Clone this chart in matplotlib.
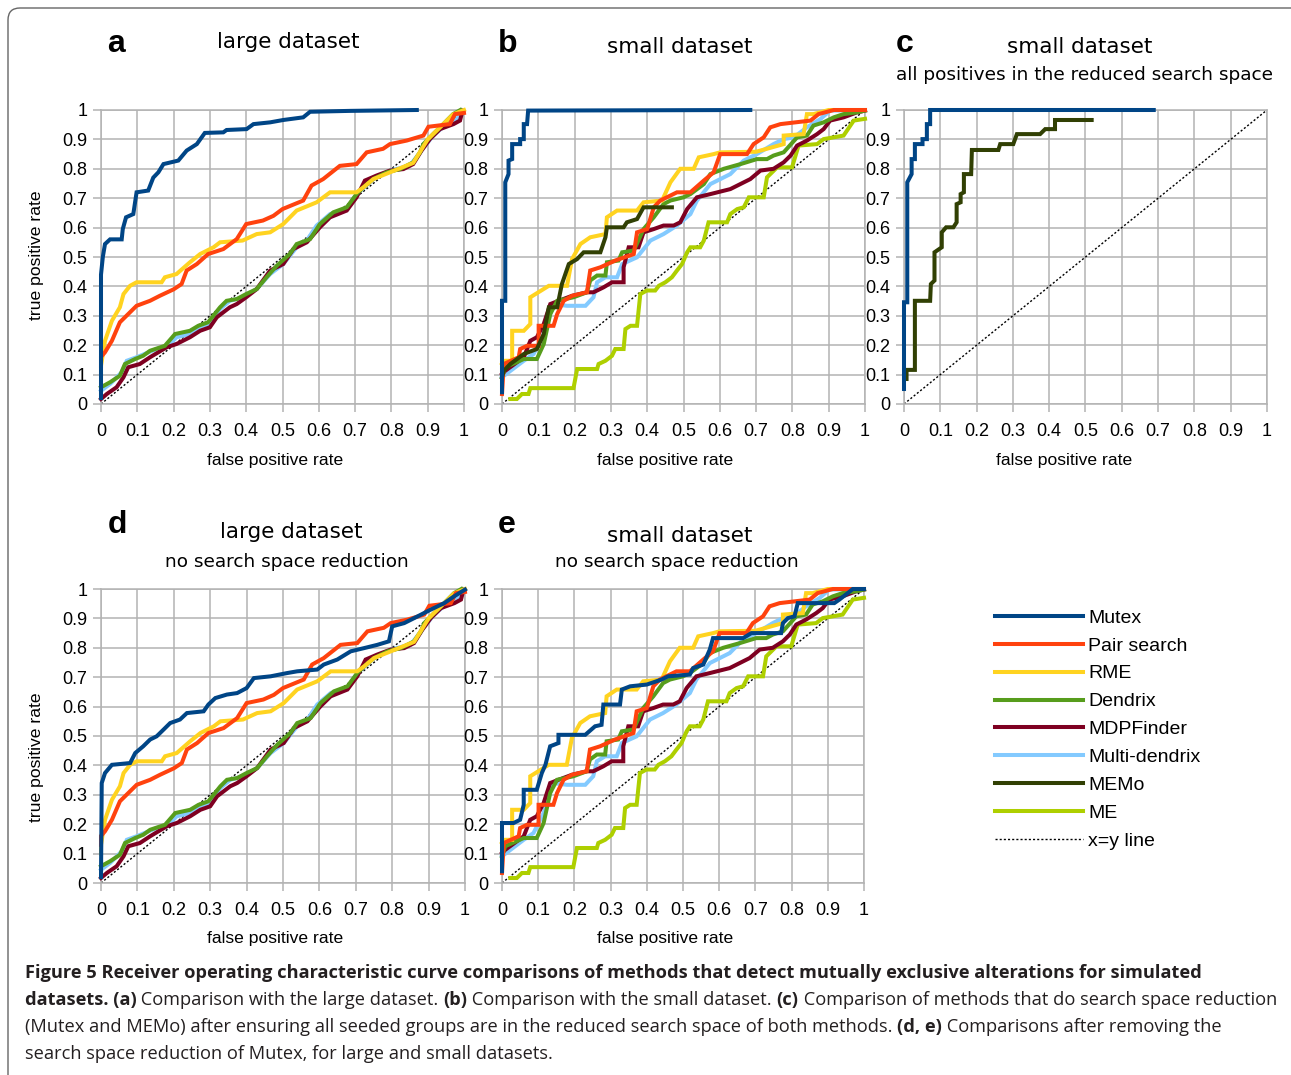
import numpy as np
import matplotlib
matplotlib.use('Agg')
import matplotlib.pyplot as plt
from matplotlib import font_manager
from matplotlib.patches import FancyBboxPatch
from matplotlib.transforms import IdentityTransform

# ---- data: (false positive rate, true positive rate) points ----
# large dataset (panels a and d share everything except Mutex)
mutex_large = [(0, .02), (0, .44), (.005, .5), (.011, .544), (.025, .56), (.057, .56), (.06, .595),
               (.069, .635), (.089, .646), (.098, .72), (.13, .726), (.144, .77), (.158, .788),
               (.172, .816), (.213, .828), (.236, .862), (.264, .884), (.286, .922), (.337, .924),
               (.346, .932), (.401, .935), (.42, .952), (.466, .958), (.502, .966), (.557, .975),
               (.576, .994), (.686, .997), (.87, 1.0)]
mutex_large_noreduction = [(0, .02), (.002, .34), (.011, .374), (.03, .402), (.08, .408), (.094, .442),
                           (.116, .465), (.135, .488), (.153, .499), (.172, .522), (.19, .544),
                           (.217, .556), (.236, .578), (.282, .584), (.295, .607), (.314, .629),
                           (.346, .641), (.374, .646), (.4, .663), (.42, .697), (.466, .703),
                           (.511, .714), (.539, .72), (.594, .726), (.612, .743), (.649, .76),
                           (.686, .788), (.723, .799), (.759, .81), (.791, .822), (.8, .873),
                           (.833, .884), (.87, .907), (.906, .93), (.943, .952), (.97, .975), (1.0, .998)]
pair_large = [(0, .13), (0, .16), (.011, .176), (.03, .215), (.052, .278), (.075, .306), (.098, .334),
              (.135, .351), (.162, .368), (.2, .39), (.222, .408), (.236, .454), (.264, .476),
              (.295, .51), (.337, .527), (.374, .561), (.4, .612), (.446, .624), (.475, .64),
              (.5, .663), (.557, .692), (.58, .743), (.612, .765), (.658, .81), (.704, .816),
              (.732, .856), (.777, .868), (.796, .884), (.842, .896), (.888, .913), (.902, .943),
              (.961, .952), (.975, .986), (1.0, .99)]
rme_large = [(0, .1), (0, .13), (.011, .215), (.03, .283), (.052, .329), (.062, .374), (.08, .402),
             (.098, .414), (.167, .414), (.176, .431), (.208, .442), (.245, .482), (.273, .51),
             (.31, .533), (.328, .55), (.39, .556), (.429, .578), (.466, .584), (.502, .612),
             (.539, .658), (.594, .686), (.631, .72), (.704, .72), (.723, .737), (.75, .765),
             (.8, .79), (.86, .82), (.9, .9), (.97, .985), (1.0, 1.0)]
dendrix_large = [(0, .057), (.025, .074), (.052, .096), (.066, .136), (.094, .153), (.116, .164),
                 (.135, .181), (.176, .198), (.204, .238), (.245, .249), (.268, .266), (.295, .278),
                 (.328, .329), (.346, .351), (.374, .357), (.4, .374), (.429, .391), (.456, .431),
                 (.484, .47), (.52, .51), (.539, .544), (.576, .561), (.603, .612), (.64, .652),
                 (.677, .669), (.704, .714), (.723, .737), (.75, .765), (.787, .788), (.824, .799),
                 (.86, .822), (.879, .856), (.888, .884), (.915, .918), (.943, .952), (.97, .986),
                 (.99, 1.0)]
mdp_large = [(0, .017), (.016, .034), (.043, .057), (.062, .091), (.075, .125), (.107, .136),
             (.135, .159), (.181, .193), (.208, .204), (.245, .227), (.273, .249), (.3, .261),
             (.319, .295), (.355, .329), (.374, .34), (.4, .363), (.429, .391), (.466, .454),
             (.502, .476), (.53, .527), (.567, .55), (.603, .601), (.631, .635), (.677, .658),
             (.704, .703), (.727, .76), (.759, .777), (.796, .794), (.833, .799), (.86, .816),
             (.883, .862), (.906, .901), (.934, .935), (.971, .952), (.989, .964), (.996, .998)]
multi_large = [(0, .045), (.025, .068), (.057, .108), (.071, .147), (.098, .159), (.153, .187),
               (.181, .193), (.208, .227), (.245, .238), (.282, .266), (.3, .272), (.328, .323),
               (.355, .351), (.392, .363), (.429, .391), (.466, .442), (.502, .476), (.539, .533),
               (.567, .556), (.594, .607), (.631, .646), (.677, .663), (.704, .714), (.75, .765),
               (.796, .794), (.851, .811), (.879, .856), (.915, .913), (.952, .952), (.98, .969),
               (.996, .998)]

# small dataset (panels b and e share everything except Mutex; MEMo only in b)
mutex_small = [(0, .04), (0, .351), (.009, .351), (.009, .754), (.018, .782), (.018, .828),
               (.028, .833), (.028, .884), (.05, .884), (.05, .901), (.06, .901), (.06, .952),
               (.069, .952), (.072, .998), (.684, 1.0)]
mutex_small_noreduction = [(0, .04), (0, .204), (.032, .204), (.05, .215), (.06, .266), (.06, .317),
                           (.096, .317), (.11, .374), (.12, .402), (.133, .465), (.156, .476),
                           (.156, .504), (.23, .504), (.257, .533), (.275, .538), (.28, .607),
                           (.326, .607), (.331, .658), (.354, .669), (.4, .675), (.441, .692),
                           (.459, .703), (.519, .709), (.528, .731), (.556, .743), (.574, .794),
                           (.583, .833), (.666, .833), (.689, .85), (.771, .85), (.776, .884),
                           (.79, .901), (.808, .907), (.817, .952), (.918, .952), (.932, .964),
                           (.955, .986), (.969, 1.0), (1.0, 1.0)]
pair_small = [(0, .034), (.005, .136), (.046, .159), (.05, .187), (.069, .198), (.101, .198),
              (.101, .266), (.142, .266), (.152, .306), (.17, .351), (.193, .368), (.234, .38),
              (.243, .454), (.271, .465), (.312, .488), (.363, .51), (.372, .584), (.4, .595),
              (.418, .669), (.436, .692), (.482, .72), (.519, .72), (.556, .76), (.583, .788),
              (.601, .85), (.675, .85), (.693, .884), (.721, .907), (.739, .941), (.767, .952),
              (.85, .964), (.872, .986), (.914, 1.0), (1.0, 1.0)]
rme_small = [(0, .136), (.009, .147), (.028, .147), (.028, .249), (.06, .249), (.078, .272),
             (.078, .363), (.129, .402), (.179, .402), (.193, .493), (.216, .544), (.243, .567),
             (.285, .578), (.289, .635), (.317, .658), (.372, .658), (.39, .686), (.441, .692),
             (.464, .754), (.491, .8), (.528, .8), (.542, .839), (.583, .85), (.601, .856),
             (.7, .858), (.776, .884), (.776, .913), (.831, .918), (.84, .986), (.858, .986),
             (.9, 1.0), (1.0, 1.0)]
dendrix_small = [(0, .091), (.009, .125), (.06, .153), (.096, .153), (.115, .204), (.133, .306),
                 (.152, .351), (.197, .363), (.234, .38), (.243, .42), (.262, .437), (.285, .437),
                 (.289, .482), (.321, .488), (.331, .516), (.363, .522), (.39, .595), (.418, .635),
                 (.445, .68), (.464, .692), (.5, .703), (.519, .714), (.556, .748), (.574, .782),
                 (.611, .8), (.657, .816), (.702, .833), (.73, .833), (.748, .845), (.776, .856),
                 (.813, .907), (.84, .913), (.858, .947), (.886, .958), (.914, .975), (.941, .986),
                 (.978, .992), (1.0, .998)]
mdp_small = [(0, .102), (.009, .113), (.06, .159), (.078, .215), (.096, .227), (.115, .272),
             (.133, .34), (.156, .351), (.193, .368), (.234, .38), (.252, .38), (.28, .397),
             (.303, .414), (.335, .414), (.335, .465), (.349, .533), (.376, .533), (.39, .584),
             (.418, .595), (.445, .607), (.473, .607), (.491, .618), (.51, .663), (.537, .703),
             (.574, .714), (.629, .731), (.684, .765), (.712, .794), (.748, .8), (.776, .822),
             (.795, .845), (.813, .879), (.84, .896), (.868, .918), (.886, .935), (.904, .964),
             (.941, .975), (.978, .992), (1.0, .998)]
multi_small = [(0, .091), (.06, .147), (.087, .17), (.115, .238), (.142, .34), (.179, .334),
               (.23, .334), (.252, .363), (.262, .414), (.285, .431), (.317, .431), (.331, .476),
               (.372, .499), (.409, .556), (.445, .578), (.482, .607), (.519, .646), (.537, .692),
               (.574, .748), (.629, .782), (.666, .828), (.702, .85), (.748, .884), (.776, .901),
               (.804, .907), (.84, .941), (.877, .969), (.904, .998), (1.0, 1.0)]
memo_small = [(0, .091), (.005, .113), (.023, .136), (.06, .17), (.096, .187), (.115, .238),
              (.129, .329), (.152, .329), (.165, .408), (.184, .476), (.207, .493), (.225, .516),
              (.271, .516), (.285, .567), (.289, .601), (.335, .601), (.344, .618), (.372, .629),
              (.39, .669), (.468, .669)]
me_small = [(.023, .017), (.041, .017), (.055, .034), (.073, .034), (.078, .054), (.197, .054),
            (.207, .119), (.262, .119), (.266, .136), (.285, .147), (.303, .164), (.312, .187),
            (.335, .187), (.34, .255), (.354, .266), (.372, .266), (.381, .374), (.399, .386),
            (.422, .386), (.432, .402), (.45, .414), (.468, .431), (.482, .454), (.496, .476),
            (.51, .516), (.519, .533), (.546, .533), (.556, .556), (.569, .618), (.62, .618),
            (.629, .646), (.648, .663), (.666, .669), (.68, .703), (.721, .703), (.73, .771),
            (.758, .805), (.799, .805), (.817, .879), (.868, .884), (.886, .901), (.941, .913),
            (.969, .964), (1.0, .97)]

# small dataset, all positives in the reduced search space (panel c)
mutex_reduced = [(0, .051), (0, .346), (.009, .346), (.009, .754), (.021, .782), (.021, .833),
                 (.03, .833), (.03, .884), (.051, .884), (.051, .901), (.063, .901), (.063, .952),
                 (.072, .952), (.072, 1.0), (.688, 1.0)]
memo_reduced = [(.007, .085), (.007, .116), (.03, .116), (.03, .351), (.072, .351), (.074, .408),
                (.084, .42), (.084, .516), (.104, .533), (.104, .584), (.116, .601), (.136, .601),
                (.145, .618), (.145, .68), (.156, .686), (.156, .714), (.165, .72), (.165, .782),
                (.185, .782), (.187, .864), (.26, .864), (.265, .884), (.301, .884), (.311, .918),
                (.375, .918), (.389, .935), (.416, .935), (.416, .966), (.517, .966)]

methods = ['Mutex', 'Pair search', 'RME', 'Dendrix', 'MDPFinder', 'Multi-dendrix', 'MEMo', 'ME']
colors = {'Mutex': '#004586', 'Pair search': '#ff420e', 'RME': '#ffd320', 'Dendrix': '#579d1c',
          'MDPFinder': '#7e0021', 'Multi-dendrix': '#83caff', 'MEMo': '#314004', 'ME': '#aecf00'}
# drawing order (last on top)
draw_order = ['ME', 'Multi-dendrix', 'MDPFinder', 'Dendrix', 'RME', 'Pair search', 'MEMo', 'Mutex']

panels = {
    'a': {'Mutex': mutex_large, 'Pair search': pair_large, 'RME': rme_large, 'Dendrix': dendrix_large,
          'MDPFinder': mdp_large, 'Multi-dendrix': multi_large},
    'b': {'Mutex': mutex_small, 'Pair search': pair_small, 'RME': rme_small, 'Dendrix': dendrix_small,
          'MDPFinder': mdp_small, 'Multi-dendrix': multi_small, 'MEMo': memo_small, 'ME': me_small},
    'c': {'Mutex': mutex_reduced, 'MEMo': memo_reduced},
    'd': {'Mutex': mutex_large_noreduction, 'Pair search': pair_large, 'RME': rme_large,
          'Dendrix': dendrix_large, 'MDPFinder': mdp_large, 'Multi-dendrix': multi_large},
    'e': {'Mutex': mutex_small_noreduction, 'Pair search': pair_small, 'RME': rme_small,
          'Dendrix': dendrix_small, 'MDPFinder': mdp_small, 'Multi-dendrix': multi_small,
          'ME': me_small},
}
titles = {'a': ('large dataset', None), 'b': ('small dataset', None),
          'c': ('small dataset', 'all positives in the reduced search space'),
          'd': ('large dataset', 'no search space reduction'),
          'e': ('small dataset', 'no search space reduction')}
ticks = np.round(np.arange(0, 1.01, 0.1), 1)
tick_labels = ['0'] + ['%.1f' % t for t in ticks[1:-1]] + ['1']

# ---- layout (pixels) ----
W, H = 1291, 1075
fig = plt.figure(figsize=(W / 100, H / 100), dpi=100)
fig.patch.set_facecolor('white')


def box(l, t, r, b):
    return [l / W, 1 - b / H, (r - l) / W, (b - t) / H]


def fx(x):
    return x / W


def fy(y):
    return 1 - y / H


axes_px = {'a': (101, 110, 464, 404), 'b': (502, 110, 865, 404), 'c': (904, 110, 1267, 404),
           'd': (101, 589, 465, 883), 'e': (502, 589, 864, 883)}
letter_pos = {'a': (116, 52), 'b': (508, 52), 'c': (905, 52), 'd': (117, 533), 'e': (507, 533)}
title_pos = {'a': (288, 48), 'b': (680, 53), 'c': (1080, 53), 'd': (291, 538), 'e': (680, 542)}
subtitle_pos = {'c': (1084, 80), 'd': (287, 567), 'e': (677, 567)}
xlabel_pos = {'a': 275, 'b': 665, 'c': 1064, 'd': 275, 'e': 665}

grid_c = '#b3b3b3'
sans = ['Liberation Sans', 'DejaVu Sans']
axes = {}
for key, (l, t, r, b) in axes_px.items():
    ax = fig.add_axes(box(l, t, r, b))
    axes[key] = ax
    ax.set_xlim(0, 1)
    ax.set_ylim(0, 1)
    ax.set_xticks(ticks)
    ax.set_yticks(ticks)
    ax.set_xticklabels(tick_labels, family=sans, fontsize=13)
    ax.set_yticklabels(tick_labels, family=sans, fontsize=13)
    ax.tick_params(direction='out', length=5.8, width=1.1, color=grid_c, pad=4, labelcolor='black')
    ax.tick_params(axis='x', pad=8)
    ax.grid(True, color=grid_c, lw=1.1)
    ax.set_axisbelow(True)
    for sp in ax.spines.values():
        sp.set_color(grid_c)
        sp.set_linewidth(1.1)
    ax.plot([0, 1], [0, 1], color='black', lw=1.0, ls=(0, (1.5, 1.5)), label='x=y line', zorder=2)
    for name in draw_order:
        if name in panels[key]:
            pts = np.array(panels[key][name])
            ax.plot(pts[:, 0], pts[:, 1], color=colors[name], lw=2.9, label=name,
                    solid_joinstyle='miter', clip_on=False, zorder=3)

    # panel letter and titles
    lx, ly = letter_pos[key]
    fig.text(fx(lx), fy(ly), key, family=sans, fontweight='bold', fontsize=23,
             ha='center', va='baseline')
    tx, ty = title_pos[key]
    fig.text(fx(tx), fy(ty), titles[key][0], family='DejaVu Sans', fontsize=15.5,
             ha='center', va='baseline')
    if titles[key][1]:
        sx, sy = subtitle_pos[key]
        fig.text(fx(sx), fy(sy), titles[key][1], family='DejaVu Sans', fontsize=13.3,
                 ha='center', va='baseline')
    fig.text(fx(xlabel_pos[key]), fy(b + 56), 'false positive rate', family=sans, fontsize=12.6,
             ha='center', va='center')

for key, yc in (('a', 255), ('d', 757)):
    fig.text(fx(37), fy(yc), 'true positive rate', family=sans, fontsize=12.6, rotation=90,
             ha='center', va='center')

# legend
h, lab = axes['b'].get_legend_handles_labels()
lookup = dict(zip(lab, h))
order = methods + ['x=y line']
fig.legend([lookup[m] for m in order], order, loc='upper left',
           bbox_to_anchor=(fx(995), fy(609)), frameon=False, prop={'family': sans, 'size': 14},
           handlelength=4.5, handletextpad=0.3, borderpad=0, borderaxespad=0, labelspacing=0.53)

# outer frame
fig.patches.append(FancyBboxPatch((8, -30), 1400, H - 8 + 30, boxstyle='round,pad=0,rounding_size=12',
                                  transform=IdentityTransform(), fc='none', ec='#666666', lw=1.0))

# ---- caption ----
try:
    font_manager.findfont('Liberation Sans Narrow', fallback_to_default=False)
    cap_family = ['Liberation Sans Narrow', 'DejaVu Sans']
except Exception:
    cap_family = ['Open Sans', 'DejaVu Sans']

caption = [
    [('Figure 5 Receiver operating characteristic curve comparisons of methods that detect mutually '
      'exclusive alterations for simulated', 'bold')],
    [('datasets. (a)', 'bold'), (' Comparison with the large dataset. ', 'normal'), ('(b)', 'bold'),
     (' Comparison with the small dataset. ', 'normal'), ('(c)', 'bold'),
     (' Comparison of methods that do search space reduction', 'normal')],
    [('(Mutex and MEMo) after ensuring all seeded groups are in the reduced search space of both '
      'methods. ', 'normal'), ('(d, e)', 'bold'), (' Comparisons after removing the', 'normal')],
    [('search space reduction of Mutex, for large and small datasets.', 'normal')],
]
renderer = fig.canvas.get_renderer()


def text_width(s, size, weight):
    t = fig.text(0, 0, 'x' + s + 'x', family=cap_family, fontsize=size, fontweight=weight)
    w1 = t.get_window_extent(renderer).width
    t.remove()
    t = fig.text(0, 0, 'xx', family=cap_family, fontsize=size, fontweight=weight)
    w2 = t.get_window_extent(renderer).width
    t.remove()
    return w1 - w2


def line_width(parts, size):
    return sum(text_width(s, size, w) for s, w in parts)


base = 12.0
cap_size = base * (1245 / line_width(caption[1], base))
for i, parts in enumerate(caption):
    x = 25
    y = 978 + 27 * i
    for s, w in parts:
        fig.text(fx(x), fy(y), s, family=cap_family, fontsize=cap_size, fontweight=w,
                 va='baseline', ha='left', color='#231f20')
        x += text_width(s, cap_size, w)

fig.savefig('out.png', dpi=100)
